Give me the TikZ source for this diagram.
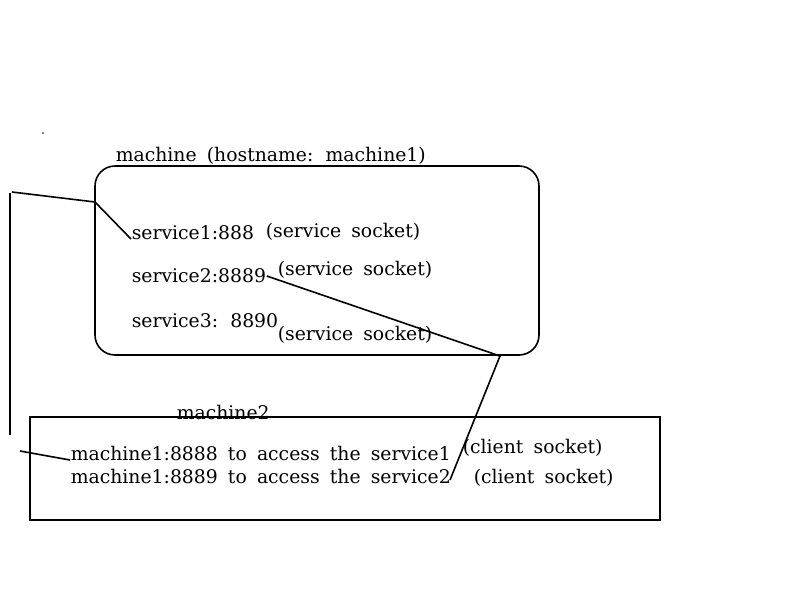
\documentclass[tikz,border=0pt]{standalone}
\usepackage{fontspec}
\setmainfont{DejaVu Serif}[WordSpace=1.7]
\usepackage{tikz}
\usetikzlibrary{positioning}

\begin{document}
\begin{tikzpicture}[x=1pt, y=-1pt, line width=1.6pt,
  lbl/.style={anchor=base west, inner sep=0pt, font=\fontsize{18.8}{22}\selectfont}]
  \useasboundingbox (0,0) rectangle (800,600);
  \fill (43,133) circle (0.8);
  % machine one
  \node[lbl] (m1) at (115,161) {machine (hostname: machine1)};
  \draw[rounded corners=20] (95,166) rectangle (539,355);
  \node[lbl] (s1) at (131,239) {service1:888};
  \node[lbl] (k1) at (265,237) {(service socket)};
  \node[lbl] (s2) at (131,282) {service2:8889};
  \node[lbl] (k2) at (277,275) {(service socket)};
  \node[lbl] (s3) at (131,327) {service3: 8890};
  \node[lbl] (k3) at (277,340) {(service socket)};
  % machine two
  \node[lbl] (m2) at (176,419) {machine2};
  \draw (30,417) rectangle (660,520);
  \node[lbl] (c1) at (70,460) {machine1:8888 to access the service1};
  \node[lbl] (c2) at (70,483) {machine1:8889 to access the service2};
  \node[lbl] (q1) at (462,453) {(client socket)};
  \node[lbl] (q2) at (473,483) {(client socket)};
  % connectors
  \coordinate (p1) at (12,192);
  \coordinate (p2) at (95,202);
  \coordinate (p3) at (500,356);
  \coordinate (p4) at (450,480);
  \coordinate (v1) at (10,193);
  \coordinate (v2) at (10,435);
  \coordinate (p5) at (20,451);
  \draw (p1) -- (p2) -- (s1.base west);
  \draw (s2.base east) ++(0,-6) -- (p3) -- (p4);
  \draw (v1) -- (v2);
  \draw (p5) -- (c1.base west);
\end{tikzpicture}
\end{document}
